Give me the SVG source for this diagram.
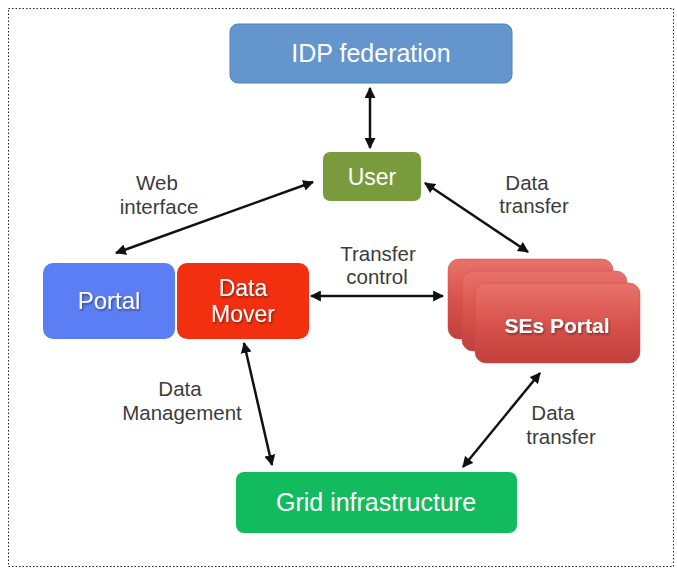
<svg xmlns="http://www.w3.org/2000/svg" width="677" height="570" viewBox="0 0 677 570">
<style>
.lbl{font-family:"Liberation Sans",Arial,sans-serif;font-size:20.5px;fill:#3c3c3c;text-anchor:middle}
.nt{font-family:"Liberation Sans",Arial,sans-serif;fill:#ffffff;text-anchor:middle}
.con{stroke:#111;stroke-width:2.5;fill:none;marker-start:url(#ah);marker-end:url(#ah)}
</style>
<defs>
<marker id="ah" viewBox="0 0 10 10" refX="9" refY="5" markerWidth="4.4" markerHeight="4.4" orient="auto-start-reverse" markerUnits="strokeWidth">
<path d="M0,0 L10,5 L0,10 Z" fill="#111"/>
</marker>
<linearGradient id="seg" x1="0" y1="0" x2="0" y2="1">
<stop offset="0" stop-color="#e8736b"/>
<stop offset="0.5" stop-color="#d9534d"/>
<stop offset="1" stop-color="#c0403c"/>
</linearGradient>
<filter id="ts" x="-10%" y="-10%" width="130%" height="140%">
<feDropShadow dx="1" dy="1.5" stdDeviation="0.8" flood-color="#000" flood-opacity="0.45"/>
</filter>
</defs>
<rect x="0" y="0" width="677" height="570" fill="#fff"/>
<rect x="8.5" y="8.5" width="665" height="558" fill="none" stroke="#222" stroke-width="1" stroke-dasharray="1.5,2"/>

<g id="connectors">
<line class="con" x1="370" y1="88" x2="370" y2="148"/>
<line class="con" x1="313" y1="182" x2="116" y2="253"/>
<line class="con" x1="425" y1="183" x2="528" y2="252"/>
<line class="con" x1="311" y1="296" x2="443" y2="296"/>
<line class="con" x1="244" y1="343" x2="272" y2="465"/>
<line class="con" x1="540" y1="373" x2="463" y2="467"/>
</g>

<g id="idp">
<rect x="230" y="24" width="282" height="59" rx="8" fill="#6496cd" stroke="#4d82c0" stroke-width="1"/>
<text class="nt" x="371" y="62" font-size="25">IDP federation</text>
</g>

<g id="user">
<rect x="323" y="152" width="98" height="49" rx="7" fill="#7a9b3d"/>
<text class="nt" x="372" y="185" font-size="23">User</text>
</g>

<g id="portal">
<rect x="43" y="263" width="132" height="76" rx="10" fill="#5b7ef5"/>
<text class="nt" x="109" y="309" font-size="24" filter="url(#ts)">Portal</text>
</g>

<g id="datamover">
<rect x="177" y="263" width="132" height="76" rx="10" fill="#f23010"/>
<text class="nt" x="243" y="296" font-size="23" filter="url(#ts)">Data</text>
<text class="nt" x="243" y="322" font-size="23" filter="url(#ts)">Mover</text>
</g>

<g id="ses">
<rect x="448" y="259" width="165" height="80" rx="11" fill="url(#seg)" stroke="#c84a45" stroke-width="0.5"/>
<rect x="462" y="271" width="165" height="80" rx="11" fill="url(#seg)" stroke="#c84a45" stroke-width="0.5"/>
<rect x="475" y="283" width="165" height="80" rx="11" fill="url(#seg)" stroke="#c84a45" stroke-width="0.5"/>
<text class="nt" x="557" y="333" font-size="21" font-weight="bold" filter="url(#ts)">SEs Portal</text>
</g>

<g id="grid">
<rect x="236" y="472" width="281" height="61" rx="8" fill="#12bb5e"/>
<text class="nt" x="376" y="511" font-size="25">Grid infrastructure</text>
</g>

<g id="labels">
<text class="lbl" x="157" y="190">Web</text>
<text class="lbl" x="159" y="214">interface</text>
<text class="lbl" x="527" y="190">Data</text>
<text class="lbl" x="534" y="213">transfer</text>
<text class="lbl" x="378" y="261">Transfer</text>
<text class="lbl" x="377" y="284">control</text>
<text class="lbl" x="180" y="396">Data</text>
<text class="lbl" x="182" y="420">Management</text>
<text class="lbl" x="553" y="420">Data</text>
<text class="lbl" x="561" y="444">transfer</text>
</g>
</svg>
